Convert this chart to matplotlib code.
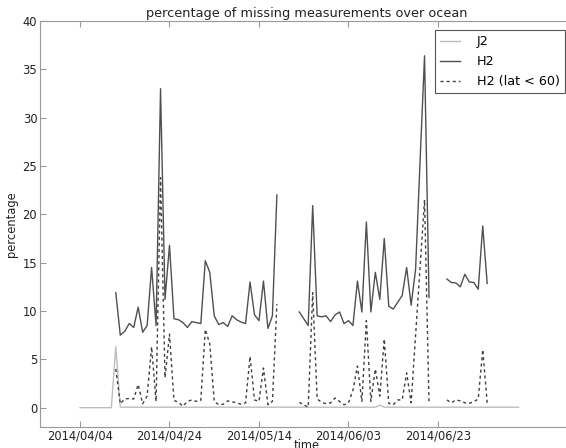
import numpy as np
import pandas as pd
import matplotlib
matplotlib.use("Agg")
import matplotlib.pyplot as plt
import matplotlib.dates as mdates

nan = np.nan

# one value per day, starting 2014/04/04
start = "2014-04-04"

j2 = [0.0, 0.0, 0.0, 0.0, 0.0, 0.0, 0.0, 0.0, 6.3, 0.05,
      0.05, 0.05, 0.05, 0.05, 0.05, 0.05, 0.05, 0.05, 0.05, 0.05,
      0.05, 0.05, 0.05, 0.05, 0.05, 0.05, 0.05, 0.05, 0.05, 0.05,
      0.05, 0.05, 0.05, 0.05, 0.05, 0.05, 0.05, 0.05, 0.05, 0.05,
      0.05, 0.05, 0.05, 0.05, 0.05, 0.05, 0.05, 0.05, 0.05, 0.05,
      0.05, 0.05, 0.05, 0.05, 0.05, 0.05, 0.05, 0.05, 0.05, 0.05,
      0.05, 0.05, 0.05, 0.05, 0.05, 0.05, 0.05, 0.25, 0.05, 0.05,
      0.05, 0.05, 0.05, 0.05, 0.05, 0.05, 0.05, 0.05, 0.05, 0.05,
      0.05, 0.05, 0.05, 0.05, 0.05, 0.05, 0.05, 0.05, 0.05, 0.05,
      0.05, 0.05, 0.05, 0.05, 0.05, 0.05, 0.05, 0.05, 0.05]

h2 = [nan, nan, nan, nan, nan, nan, nan, nan, 11.9, 7.5,
      7.9, 8.7, 8.3, 10.4, 7.8, 8.5, 14.5, 8.5, 33.0, 11.2,
      16.8, 9.2, 9.1, 8.8, 8.3, 8.9, 8.8, 8.7, 15.2, 14.0,
      9.5, 8.6, 8.8, 8.4, 9.5, 9.1, 8.85, 8.7, 13.0, 9.6,
      9.0, 13.1, 8.2, 9.5, 22.0, nan, nan, nan, nan, 9.9,
      9.2, 8.5, 20.9, 9.5, 9.4, 9.5, 8.9, 9.6, 9.9, 8.7,
      9.0, 8.5, 13.1, 9.9, 19.2, 9.9, 14.0, 11.2, 17.5, 10.5,
      10.2, 10.9, 11.6, 14.5, 10.6, 14.3, 25.5, 36.4, 11.4, nan,
      nan, nan, 13.3, 12.95, 12.9, 12.5, 13.8, 13.0, 12.95, 12.25,
      18.8, 12.85, nan, nan, nan, nan, nan, nan, nan]

h2_lat60 = [nan, nan, nan, nan, nan, nan, nan, nan, 4.0, 0.4,
            0.9, 0.95, 0.9, 2.4, 0.4, 1.2, 6.3, 0.65, 23.8, 3.1,
            7.6, 0.75, 0.55, 0.15, 0.65, 0.8, 0.65, 0.75, 8.1, 6.6,
            0.65, 0.3, 0.35, 0.7, 0.6, 0.5, 0.35, 0.5, 5.3, 0.8,
            0.65, 4.1, 0.3, 0.65, 10.7, nan, nan, nan, nan, 0.55,
            0.3, 0.05, 11.9, 0.9, 0.55, 0.4, 0.5, 1.0, 0.65, 0.3,
            0.5, 1.8, 4.3, 0.65, 9.0, 0.65, 4.0, 1.2, 7.1, 0.45,
            0.3, 0.8, 0.8, 3.6, 0.5, 7.5, 14.5, 21.5, 0.5, nan,
            nan, nan, 0.8, 0.5, 0.8, 0.7, 0.5, 0.45, 0.6, 0.9,
            6.0, 0.5, nan, nan, nan, nan, nan, nan, nan]

tick_dates = ["2014-04-04", "2014-04-24", "2014-05-14", "2014-06-03", "2014-06-23"]

dates = pd.date_range(start, periods=len(j2), freq="D")

fig = plt.figure(figsize=(5.66, 4.48), dpi=100)
ax = fig.add_axes([40 / 566, 21 / 448, 534 / 566, 406 / 448])

ax.plot(dates, j2, color="#bdbdbd", lw=1.0, label="J2")
ax.plot(dates, h2, color="#505050", lw=1.0, label="H2")
ax.plot(dates, h2_lat60, color="#404040", lw=1.0, dashes=(2.2, 2.2),
        label="H2 (lat < 60)")

ax.set_ylim(-2, 40)
ax.set_yticks([0, 5, 10, 15, 20, 25, 30, 35, 40])
x0 = pd.Timestamp(start)
ax.set_xlim(x0 - pd.Timedelta(days=8.94), x0 + pd.Timedelta(days=110.4))
ax.set_xticks(pd.to_datetime(tick_dates))
ax.xaxis.set_major_formatter(mdates.DateFormatter("%Y/%m/%d"))

ax.tick_params(direction="in", top=True, right=True, length=4,
               labelsize=8.3, colors="#999999", labelcolor="#222222", pad=2)
for s in ax.spines.values():
    s.set_color("#999999")

ax.set_title("percentage of missing measurements over ocean", fontsize=9.3,
             color="#222222", pad=3)
ax.set_ylabel("percentage", fontsize=8.3, color="#222222", labelpad=3)
ax.set_xlabel("time", fontsize=8.3, color="#222222", labelpad=-2.5)

leg = ax.legend(loc="upper right", bbox_to_anchor=(565 / 566, 1 - 30 / 448),
                bbox_transform=fig.transFigure, borderaxespad=0,
                fontsize=9.2, fancybox=False, framealpha=1, edgecolor="#555555",
                handlelength=1.6, handletextpad=1.3, labelspacing=0.55)
leg.get_frame().set_linewidth(0.8)

fig.savefig("out.png", dpi=100)
